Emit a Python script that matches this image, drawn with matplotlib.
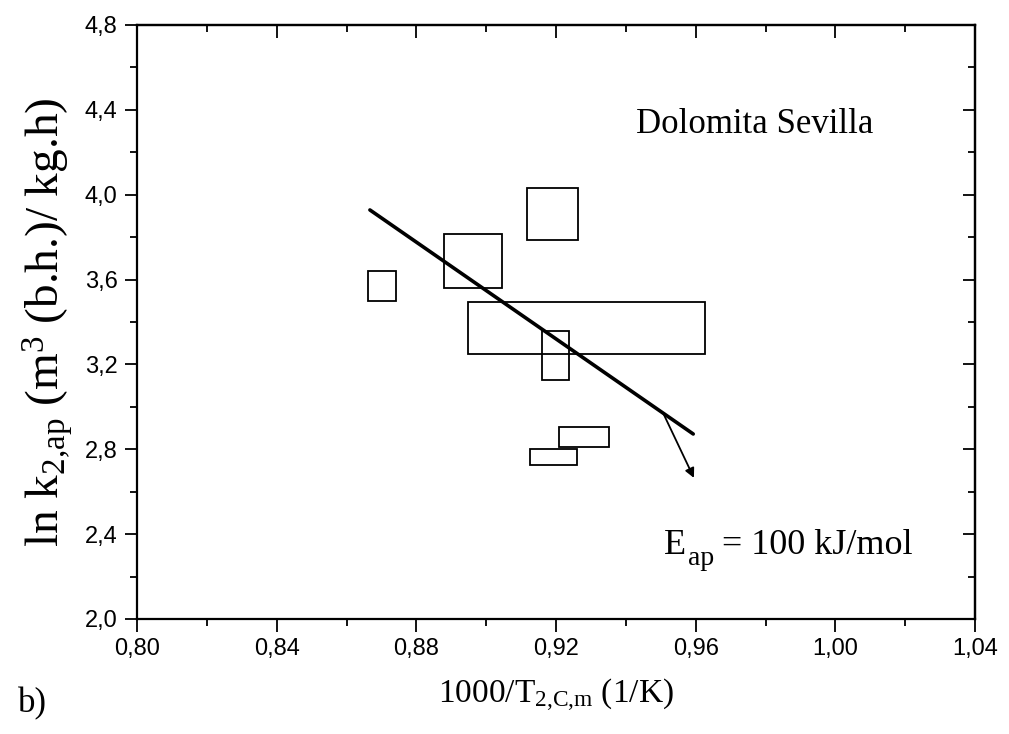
import matplotlib
matplotlib.use("Agg")
import matplotlib.pyplot as plt
from matplotlib.patches import Rectangle
from matplotlib.ticker import MultipleLocator, FuncFormatter

# uncertainty boxes (1000/T range, ln k range)
box_x0 = [0.8662, 0.8879, 0.9118, 0.8949, 0.9159, 0.9208, 0.9125]
box_x1 = [0.8742, 0.9044, 0.9263, 0.9628, 0.9236, 0.9351, 0.9259]
box_y0 = [3.499, 3.562, 3.787, 3.249, 3.127, 2.812, 2.725]
box_y1 = [3.642, 3.815, 4.031, 3.496, 3.359, 2.904, 2.803]

# Arrhenius fit line
fit_x = [0.8667, 0.9593]
fit_y = [3.928, 2.872]

plt.rcParams["font.family"] = "Liberation Sans"
plt.rcParams["mathtext.default"] = "regular"
serif = "Liberation Serif"

fig = plt.figure(figsize=(10.09, 7.34), dpi=100)
ax = fig.add_axes([0.1358, 0.1567, 0.8305, 0.8093])

for x0, x1, y0, y1 in zip(box_x0, box_x1, box_y0, box_y1):
    ax.add_patch(Rectangle((x0, y0), x1 - x0, y1 - y0, fill=False,
                           edgecolor="black", linewidth=1.3))

ax.plot(fit_x, fit_y, color="black", linewidth=2.6, solid_capstyle="round")

ax.annotate("", xy=(0.9595, 2.665), xytext=(0.9507, 2.970),
            arrowprops=dict(arrowstyle="-|>", color="black", lw=1.3,
                            mutation_scale=14, shrinkA=0, shrinkB=0))

ax.text(1.011, 4.33, "Dolomita Sevilla", ha="right", va="center",
        fontsize=25, family=serif)

# E_ap label built from pieces so the subscript stays large
t_e = ax.text(0.951, 2.27, "E", ha="left", va="bottom", fontsize=26, family=serif)
t_ap = ax.annotate("ap", xy=(1, 0), xycoords=t_e, xytext=(1, -7),
                   textcoords="offset points", ha="left", va="bottom",
                   fontsize=20, family=serif)
ax.annotate("= 100 kJ/mol", xy=(1, 0), xycoords=t_ap, xytext=(6, 7),
            textcoords="offset points", ha="left", va="bottom",
            fontsize=26, family=serif)

ax.set_xlim(0.80, 1.04)
ax.set_ylim(2.0, 4.8)
ax.xaxis.set_major_locator(MultipleLocator(0.04))
ax.xaxis.set_minor_locator(MultipleLocator(0.02))
ax.yaxis.set_major_locator(MultipleLocator(0.4))
ax.yaxis.set_minor_locator(MultipleLocator(0.2))
ax.xaxis.set_major_formatter(FuncFormatter(lambda v, p: f"{v:.2f}".replace(".", ",")))
ax.yaxis.set_major_formatter(FuncFormatter(lambda v, p: f"{v:.1f}".replace(".", ",")))

ax.tick_params(axis="both", which="both", direction="out", top=False, right=False,
               width=1.3)
ax.tick_params(axis="both", which="major", length=9, labelsize=17, pad=5)
ax.tick_params(axis="both", which="minor", length=5)

# inward ticks on top and right (Origin style)
sec_x = ax.secondary_xaxis("top")
sec_x.xaxis.set_major_locator(MultipleLocator(0.04))
sec_x.xaxis.set_minor_locator(MultipleLocator(0.02))
sec_x.tick_params(which="both", direction="in", labeltop=False, width=1.3)
sec_x.tick_params(which="major", length=9)
sec_x.tick_params(which="minor", length=5)
sec_y = ax.secondary_yaxis("right")
sec_y.yaxis.set_major_locator(MultipleLocator(0.4))
sec_y.yaxis.set_minor_locator(MultipleLocator(0.2))
sec_y.tick_params(which="both", direction="in", labelright=False, width=1.3)
sec_y.tick_params(which="major", length=9)
sec_y.tick_params(which="minor", length=5)

for s in ax.spines.values():
    s.set_linewidth(1.6)
sec_x.spines["top"].set_linewidth(1.6)
sec_y.spines["right"].set_linewidth(1.6)

ax.set_xlabel("1000/T$_{2{,}C{,}m}$ (1/K)", fontsize=24, family=serif, labelpad=12)
ax.set_ylabel("ln k$_{2{,}ap}$ (m$^3$ (b.h.)/ kg.h)", fontsize=34, family=serif,
              labelpad=7)
fig.text(0.018, 0.03, "b)", fontsize=25, family=serif)

fig.savefig("out.png", dpi=100)
